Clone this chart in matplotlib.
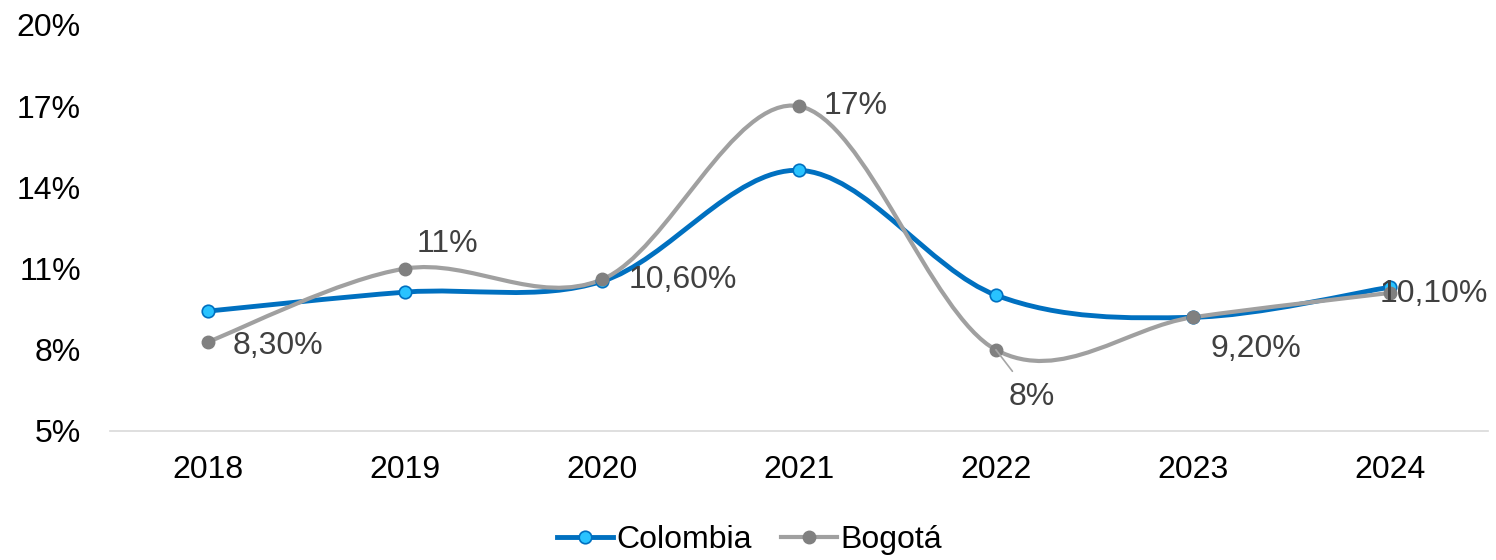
import matplotlib
matplotlib.use("Agg")
import matplotlib.pyplot as plt
from matplotlib.path import Path
from matplotlib.patches import PathPatch
from matplotlib.lines import Line2D
from matplotlib.ticker import FuncFormatter

plt.rcParams["font.family"] = ["Liberation Sans", "DejaVu Sans"]

years = ["2018", "2019", "2020", "2021", "2022", "2023", "2024"]
colombia = [9.43, 10.13, 10.53, 14.63, 10.02, 9.2, 10.31]
bogota = [8.3, 11.0, 10.6, 17.0, 8.0, 9.2, 10.1]
bogota_labels = ["8,30%", "11%", "10,60%", "17%", "8%", "9,20%", "10,10%"]

# label offsets in pixels (dx, dy) relative to the point
label_offsets = [(24, -4), (11, 25), (26, -1), (25, 0), (13, -47), (18, -32), (-10, -1)]


def smooth_path(xs, ys):
    # Excel-like smoothed line: Catmull-Rom turned into cubic Bezier segments
    verts = [(xs[0], ys[0])]
    codes = [Path.MOVETO]
    n = len(xs)
    for i in range(n - 1):
        i0 = max(i - 1, 0)
        i3 = min(i + 2, n - 1)
        c1 = (xs[i] + (xs[i + 1] - xs[i0]) / 6, ys[i] + (ys[i + 1] - ys[i0]) / 6)
        c2 = (xs[i + 1] - (xs[i3] - xs[i]) / 6, ys[i + 1] - (ys[i3] - ys[i]) / 6)
        verts += [c1, c2, (xs[i + 1], ys[i + 1])]
        codes += [Path.CURVE4] * 3
    return Path(verts, codes)


fig = plt.figure(figsize=(14.96, 5.6), dpi=100)
ax = fig.add_axes([0.0735, 0.2304, 0.9212, 0.725])

x = list(range(len(years)))

col_line = "#0070C0"
col_face = "#29C3FF"
bog_line = "#A0A0A0"
bog_mark = "#808080"

ax.add_patch(PathPatch(smooth_path(x, colombia), fill=False, edgecolor=col_line,
                       lw=3.5, capstyle="round", joinstyle="round", zorder=3))
ax.add_patch(PathPatch(smooth_path(x, bogota), fill=False, edgecolor=bog_line,
                       lw=3.0, capstyle="round", joinstyle="round", zorder=4))
ax.plot(x, colombia, ls="none", marker="o", ms=9, mfc=col_face, mec=col_line,
        mew=1.2, zorder=5)
ax.plot(x, bogota, ls="none", marker="o", ms=9, mfc=bog_mark, mec=bog_mark,
        zorder=6)

for i, (lab, (dx, dy)) in enumerate(zip(bogota_labels, label_offsets)):
    if i == 4:
        ax.annotate(lab, (x[i], bogota[i]), xytext=(dx, dy), textcoords="offset pixels",
                    ha="left", va="center", fontsize=23, color="#404040",
                    annotation_clip=False, zorder=7,
                    arrowprops=dict(arrowstyle="-", color="#A6A6A6", lw=1.2,
                                    shrinkA=7, shrinkB=0))
    else:
        ax.annotate(lab, (x[i], bogota[i]), xytext=(dx, dy), textcoords="offset pixels",
                    ha="left", va="center", fontsize=23, color="#404040",
                    annotation_clip=False, zorder=7)

ax.set_xlim(-0.5, 6.5)
ax.set_ylim(5, 20)
ax.set_yticks([5, 8, 11, 14, 17, 20])
ax.yaxis.set_major_formatter(FuncFormatter(lambda v, p: f"{v:.0f}%"))
ax.set_xticks(x)
ax.set_xticklabels(years)
ax.tick_params(axis="both", length=0, labelsize=23, colors="#000000")
ax.tick_params(axis="y", pad=21)
ax.tick_params(axis="x", pad=17)

for s in ["top", "right", "left"]:
    ax.spines[s].set_visible(False)
ax.spines["bottom"].set_color("#D9D9D9")
ax.spines["bottom"].set_linewidth(1.2)

handles = [
    Line2D([], [], color=col_line, lw=3.5, marker="o", ms=9, mfc=col_face,
           mec=col_line, mew=1.2),
    Line2D([], [], color=bog_line, lw=3.0, marker="o", ms=9, mfc=bog_mark,
           mec=bog_mark),
]
fig.legend(handles, ["Colombia", "Bogotá"], loc="center", bbox_to_anchor=(0.501, 0.036),
           ncol=2, frameon=False, fontsize=23, handlelength=1.75, handletextpad=0.12,
           columnspacing=0.9, borderpad=0)

fig.savefig("out.png", dpi=100)
